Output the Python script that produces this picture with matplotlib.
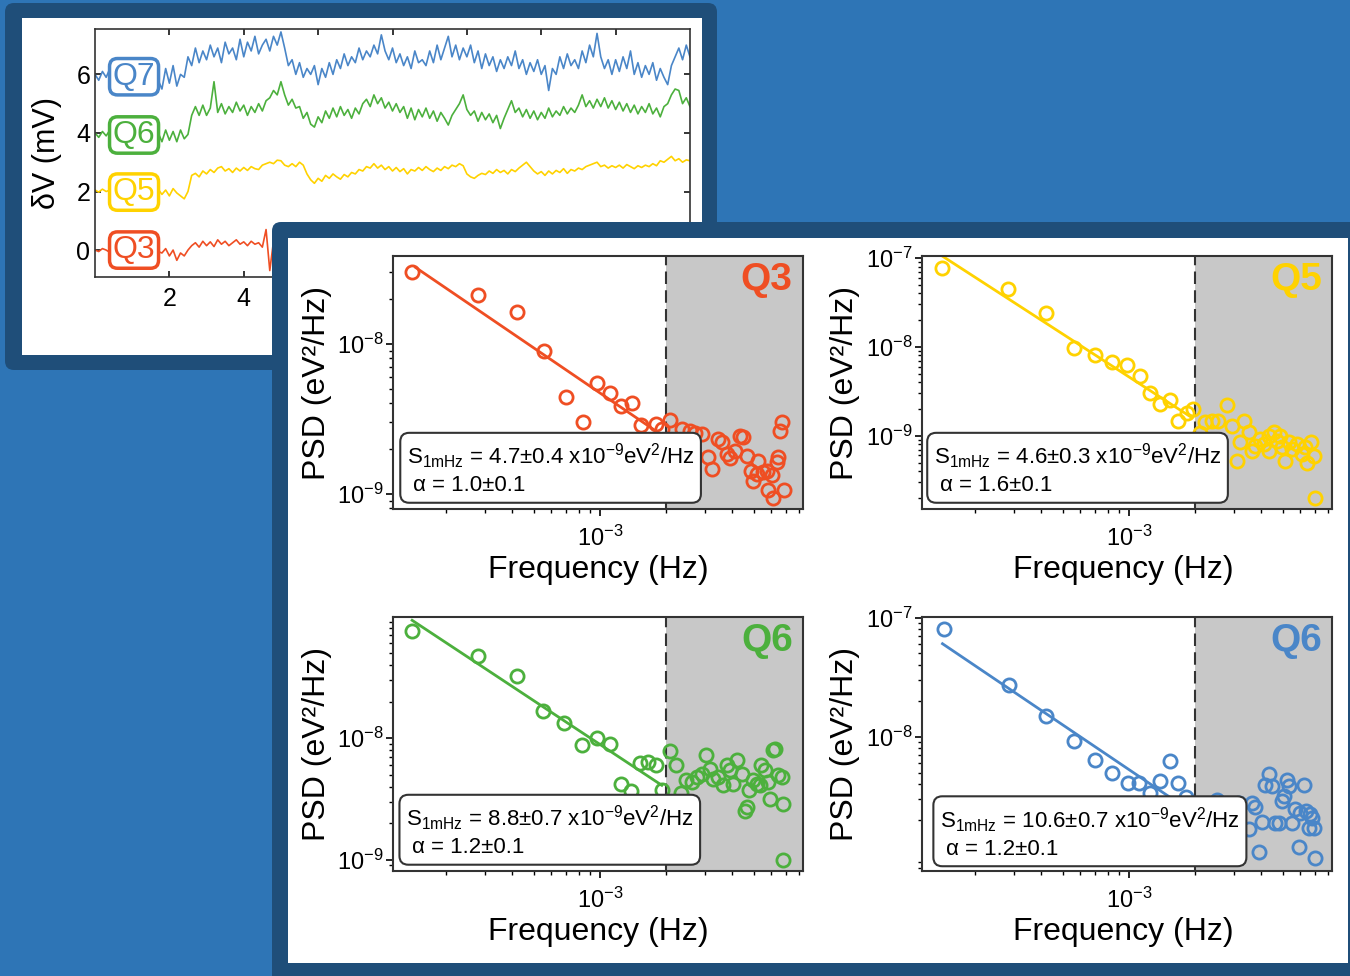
import matplotlib.pyplot as plt
import numpy as np
from matplotlib.patches import FancyBboxPatch, Rectangle
from matplotlib.ticker import FixedLocator, FuncFormatter, LogLocator, NullFormatter

# ---- time traces (dV in mV, sampled every 0.1 time unit) ----
trace_t = np.linspace(0, 16, 161)
trace_q7 = [
    6.0, 5.8, 6.1, 5.9, 6.2, 5.8, 6.0, 6.1, 5.7, 6.0,
    6.2, 5.9, 6.0, 5.8, 6.1, 5.9, 6.2, 5.8, 5.5, 6.2,
    5.7, 6.3, 5.6, 6.0, 5.9, 6.6, 6.3, 6.9, 6.4, 6.8,
    6.5, 7.0, 6.6, 6.9, 6.4, 7.1, 6.7, 6.9, 6.5, 7.2,
    6.6, 7.1, 6.8, 7.3, 6.7, 7.0, 7.2, 6.8, 7.3, 7.0,
    7.45, 6.9, 6.3, 6.5, 6.0, 6.4, 5.9, 6.2, 6.0, 6.3,
    5.65, 6.2, 5.9, 6.4, 6.0, 6.5, 6.2, 6.7, 6.3, 6.6,
    6.4, 6.9, 6.5, 6.8, 6.6, 7.0, 6.7, 7.35, 6.8, 6.5,
    6.9, 6.4, 6.7, 6.3, 6.6, 6.2, 6.8, 6.4, 6.5, 6.3,
    6.8, 6.4, 7.0, 6.5, 6.9, 7.3, 6.6, 7.0, 6.5, 6.9,
    6.6, 7.0, 6.4, 6.8, 6.2, 6.7, 6.3, 6.6, 6.1, 6.5,
    6.2, 6.6, 6.3, 6.8, 6.2, 6.5, 6.0, 6.4, 6.1, 6.5,
    6.0, 6.3, 5.45, 6.2, 6.0, 6.6, 6.2, 6.7, 6.3, 6.5,
    6.2, 6.8, 6.4, 7.0, 6.6, 7.4, 6.6, 6.2, 6.5, 6.0,
    6.5, 6.1, 6.6, 6.2, 6.8, 6.0, 6.4, 5.9, 6.3, 6.0,
    6.4, 5.8, 6.2, 5.9, 5.65, 6.3, 6.6, 6.9, 6.5, 7.0,
    6.6,
]
trace_q6 = [
    4.0, 3.85, 4.05, 3.9, 4.1, 3.95, 3.8, 4.05, 3.9, 4.0,
    3.9, 4.1, 3.85, 4.0, 3.95, 4.1, 3.85, 4.0, 3.7, 4.1,
    3.75, 4.05, 3.7, 4.1, 3.8, 3.95, 4.6, 4.9, 4.6, 4.95,
    4.6, 4.85, 5.75, 4.7, 5.0, 4.65, 4.9, 4.7, 5.05, 4.75,
    4.95, 4.6, 4.9, 4.7, 5.0, 4.75, 5.1, 5.2, 5.45, 5.3,
    5.75, 5.3, 4.95, 5.15, 4.85, 4.9, 4.5, 4.7, 4.3, 4.2,
    4.55, 4.35, 4.75, 4.5, 4.85, 4.55, 4.9, 4.6, 4.8, 4.5,
    4.85, 4.65, 5.0, 5.15, 4.9, 5.3, 5.0, 5.2, 4.85, 5.05,
    4.75, 5.0, 4.7, 4.9, 4.5, 4.85, 4.45, 4.8, 4.55, 4.85,
    4.5, 4.75, 4.4, 4.7, 4.5, 4.27, 4.6, 4.8, 5.0, 5.3,
    4.8, 4.6, 4.75, 4.4, 4.7, 4.45, 4.65, 4.35, 4.6, 4.15,
    4.5, 4.8, 5.1, 4.7, 4.85, 4.55, 4.8, 4.5, 4.75, 4.45,
    4.7, 4.5, 4.85, 4.55, 4.75, 4.6, 4.9, 4.65, 4.85, 4.7,
    4.95, 5.3, 4.9, 5.1, 4.85, 5.15, 4.9, 5.2, 4.85, 5.1,
    4.8, 5.05, 4.75, 5.0, 4.7, 4.95, 4.65, 4.9, 4.7, 5.0,
    4.65, 4.85, 4.55, 4.9, 5.0, 5.3, 5.5, 5.45, 5.0, 5.2,
    4.9,
]
trace_q5 = [
    2.05, 1.98, 2.08, 2.0, 2.05, 1.95, 2.02, 2.08, 1.98, 2.03,
    2.0, 2.06, 1.97, 2.03, 1.95, 2.05, 1.98, 2.08, 1.9, 2.05,
    1.85, 2.1, 1.95, 1.85, 1.75, 2.0, 2.55, 2.62, 2.5, 2.7,
    2.6, 2.75, 2.65, 2.8, 2.85, 2.7, 2.78, 2.65, 2.8, 2.7,
    2.82, 2.72, 2.85, 2.78, 2.75, 2.9, 2.95, 3.0, 2.95, 3.07,
    3.05, 2.9, 2.85, 2.95, 2.85, 3.0, 2.9, 2.6, 2.4, 2.28,
    2.45, 2.35, 2.55, 2.45, 2.6, 2.5, 2.42, 2.58, 2.5, 2.65,
    2.6, 2.75, 2.7, 2.85, 2.8, 2.95, 2.8, 2.9, 2.75, 2.85,
    2.7, 2.82, 2.68, 2.78, 2.6, 2.75, 2.7, 2.82, 2.72, 2.85,
    2.75, 2.68, 2.8, 2.72, 2.85, 2.78, 2.9, 2.85, 2.95, 2.88,
    2.6, 2.5, 2.45, 2.55, 2.62, 2.58, 2.7, 2.62, 2.75, 2.65,
    2.72, 2.6, 2.75, 2.68, 2.8, 2.9, 3.0, 2.85, 2.7, 2.6,
    2.68, 2.55, 2.7, 2.6, 2.72, 2.65, 2.78, 2.62, 2.75, 2.7,
    2.8, 2.75, 2.85, 2.9, 2.95, 3.0, 2.85, 2.9, 2.8, 2.88,
    2.82, 2.9, 2.8, 2.92, 2.85, 2.78, 2.88, 2.82, 2.9, 2.85,
    2.95, 2.88, 3.05, 3.0, 3.1, 3.2, 3.05, 3.12, 3.0, 3.08,
    3.05,
]
# Q3 is hidden behind the PSD panel after t ~ 5
trace_q3 = [
    0.0, -0.05, 0.05, 0.0, -0.08, 0.05, 0.0, -0.05, 0.03, 0.0,
    -0.05, 0.05, 0.0, -0.06, 0.04, -0.02, 0.05, -0.05, -0.1, 0.05,
    -0.2, 0.0, -0.35, -0.1, -0.2, 0.0, 0.15, 0.25, 0.1, 0.3,
    0.15, 0.28, 0.12, 0.35, 0.2, 0.3, 0.15, 0.25, 0.35, 0.2,
    0.28, 0.15, 0.3, 0.2, 0.25, 0.1, 0.7, -0.7, 0.3, 0.15,
    0.25,
]
trace_names = ["Q7", "Q6", "Q5", "Q3"]
trace_offsets = [5.92, 3.93, 1.98, 0.0]
trace_xticks = [2, 4, 6, 8, 10, 12, 14]
trace_xticklabels = ["2", "4", "", "", "", "", ""]  # the rest sit under the PSD panel

# ---- PSD points (Hz, eV^2/Hz) ----
q3_freq = [1.40e-4, 2.80e-4, 4.18e-4, 5.56e-4, 7.0e-4, 9.72e-4, 8.34e-4, 1.11e-3, 1.24e-3,
           1.40e-3, 1.53e-3, 1.80e-3, 1.91e-3, 2.08e-3, 2.35e-3, 2.57e-3, 2.70e-3, 2.90e-3,
           3.11e-3, 3.22e-3, 3.45e-3, 3.57e-3, 3.77e-3, 3.90e-3, 4.11e-3, 4.33e-3, 4.48e-3,
           4.65e-3, 4.84e-3, 4.98e-3, 5.16e-3, 5.25e-3, 5.53e-3, 5.72e-3, 5.82e-3, 6.03e-3,
           6.13e-3, 6.35e-3, 6.47e-3, 6.58e-3, 6.74e-3, 6.89e-3]
q3_psd = [3.02e-8, 2.11e-8, 1.62e-8, 8.98e-9, 4.39e-9, 5.47e-9, 2.99e-9, 4.67e-9, 3.82e-9,
          4.06e-9, 2.87e-9, 2.94e-9, 2.70e-9, 3.10e-9, 2.70e-9, 2.63e-9, 2.56e-9, 2.52e-9,
          1.75e-9, 1.46e-9, 2.31e-9, 2.20e-9, 1.84e-9, 1.73e-9, 1.94e-9, 2.44e-9, 2.38e-9,
          1.79e-9, 1.42e-9, 1.22e-9, 1.35e-9, 1.66e-9, 1.39e-9, 1.42e-9, 1.05e-9, 1.34e-9,
          9.35e-10, 1.62e-9, 1.75e-9, 2.63e-9, 2.99e-9, 1.05e-9]

q5_freq = [1.41e-4, 2.82e-4, 4.21e-4, 5.62e-4, 6.98e-4, 8.37e-4, 9.82e-4, 1.12e-3, 1.25e-3,
           1.39e-3, 1.54e-3, 1.67e-3, 1.83e-3, 1.95e-3, 2.11e-3, 2.22e-3, 2.38e-3, 2.55e-3,
           2.79e-3, 2.94e-3, 3.10e-3, 3.21e-3, 3.32e-3, 3.50e-3, 3.62e-3, 3.75e-3, 3.95e-3,
           4.09e-3, 4.31e-3, 4.54e-3, 4.71e-3, 4.96e-3, 5.13e-3, 5.32e-3, 5.51e-3, 5.81e-3,
           6.11e-3, 6.44e-3, 6.74e-3, 6.98e-3, 6.90e-3, 4.31e-3, 4.87e-3, 6.32e-3]
q5_psd = [7.64e-8, 4.42e-8, 2.37e-8, 9.70e-9, 8.02e-9, 6.74e-9, 6.18e-9, 4.65e-9, 3.01e-9,
          2.28e-9, 2.53e-9, 1.45e-9, 1.79e-9, 2.00e-9, 1.06e-9, 1.42e-9, 1.45e-9, 1.48e-9,
          2.24e-9, 1.30e-9, 5.21e-10, 8.41e-10, 1.45e-9, 1.09e-9, 6.77e-10, 7.71e-10, 9.16e-10,
          8.05e-10, 6.77e-10, 1.09e-9, 8.79e-10, 7.38e-10, 5.21e-10, 8.41e-10, 7.07e-10, 8.05e-10,
          6.21e-10, 5.00e-10, 8.41e-10, 2.01e-10, 5.94e-10, 1.0e-9, 1.0e-9, 7.38e-10]

q6_freq = [1.40e-4, 2.80e-4, 4.18e-4, 5.52e-4, 6.89e-4, 8.31e-4, 9.72e-4, 1.11e-3, 1.24e-3,
           1.39e-3, 1.52e-3, 1.66e-3, 1.80e-3, 1.91e-3, 2.08e-3, 2.21e-3, 2.33e-3, 2.46e-3,
           2.61e-3, 2.75e-3, 2.90e-3, 3.03e-3, 3.16e-3, 3.27e-3, 3.45e-3, 3.64e-3, 3.77e-3,
           3.90e-3, 4.04e-3, 4.21e-3, 4.41e-3, 4.56e-3, 4.65e-3, 4.78e-3, 4.98e-3, 5.16e-3,
           5.40e-3, 5.62e-3, 5.82e-3, 5.93e-3, 6.13e-3, 6.24e-3, 6.47e-3, 6.70e-3, 6.76e-3,
           6.82e-3, 5.34e-3]
q6_psd = [7.66e-8, 4.70e-8, 3.26e-8, 1.68e-8, 1.32e-8, 8.87e-9, 1.01e-8, 8.93e-9, 4.23e-9,
          3.67e-9, 6.25e-9, 6.38e-9, 6.07e-9, 3.72e-9, 7.82e-9, 6.07e-9, 3.53e-9, 4.50e-9,
          4.36e-9, 4.80e-9, 5.05e-9, 7.33e-9, 5.61e-9, 4.65e-9, 4.80e-9, 4.09e-9, 5.99e-9,
          5.44e-9, 4.23e-9, 6.58e-9, 5.11e-9, 2.54e-9, 2.71e-9, 3.72e-9, 4.50e-9, 4.23e-9,
          5.99e-9, 5.44e-9, 4.36e-9, 3.18e-9, 8.05e-9, 8.22e-9, 4.94e-9, 4.80e-9, 2.88e-9,
          9.93e-10, 4.09e-9]

q6b_freq = [1.44e-4, 2.84e-4, 4.21e-4, 5.62e-4, 6.98e-4, 8.37e-4, 9.86e-4, 1.11e-3, 1.25e-3,
            1.39e-3, 1.53e-3, 1.67e-3, 1.82e-3, 2.51e-3, 3.15e-3, 3.50e-3, 3.62e-3, 3.75e-3,
            3.88e-3, 4.02e-3, 4.17e-3, 4.31e-3, 4.47e-3, 4.63e-3, 4.79e-3, 4.96e-3, 5.09e-3,
            5.22e-3, 5.32e-3, 5.51e-3, 5.66e-3, 5.90e-3, 6.01e-3, 6.22e-3, 6.37e-3, 6.56e-3,
            6.79e-3, 6.90e-3, 6.98e-3, 6.67e-3]
q6b_psd = [8.05e-8, 2.71e-8, 1.50e-8, 9.26e-9, 6.43e-9, 4.98e-9, 4.11e-9, 4.11e-9, 3.39e-9,
           4.25e-9, 6.31e-9, 4.11e-9, 3.14e-9, 2.98e-9, 2.80e-9, 1.68e-9, 2.80e-9, 2.59e-9,
           1.09e-9, 1.93e-9, 3.91e-9, 4.89e-9, 3.85e-9, 1.91e-9, 1.91e-9, 2.89e-9, 3.18e-9,
           4.33e-9, 3.85e-9, 1.91e-9, 2.49e-9, 1.20e-9, 2.31e-9, 3.98e-9, 2.39e-9, 1.73e-9,
           2.10e-9, 1.73e-9, 9.55e-10, 2.24e-9]

# fitted 1/f^alpha lines, end points as drawn
q3_fit = ([1.45e-4, 2.0e-3], [3.24e-8, 2.35e-9])
q5_fit = ([1.36e-4, 1.93e-3], [1.12e-7, 1.60e-9])
q6_fit = ([1.40e-4, 1.91e-3], [9.30e-8, 4.10e-9])
q6b_fit = ([1.42e-4, 2.0e-3], [6.03e-8, 2.24e-9])

fit_text = [
    "S$_{1mHz}$ = 4.7±0.4 x10$^{-9}$eV$^{2}$/Hz\n α = 1.0±0.1",
    "S$_{1mHz}$ = 4.6±0.3 x10$^{-9}$eV$^{2}$/Hz\n α = 1.6±0.1",
    "S$_{1mHz}$ = 8.8±0.7 x10$^{-9}$eV$^{2}$/Hz\n α = 1.2±0.1",
    "S$_{1mHz}$ = 10.6±0.7 x10$^{-9}$eV$^{2}$/Hz\n α = 1.2±0.1",
]
panel_names = ["Q3", "Q5", "Q6", "Q6"]
cutoff_freq = 2e-3

RED, YELLOW, GREEN, BLUE = "#EF4E23", "#FFD200", "#4CB03D", "#4A86C8"
BG, FRAME, DARK = "#2E75B6", "#1F4E79", "#333333"

plt.rcParams["font.family"] = ["Liberation Sans", "DejaVu Sans"]
plt.rcParams["mathtext.default"] = "regular"

W, H = 1350, 976
fig = plt.figure(figsize=(W / 100, H / 100), dpi=100)
fig.patch.set_facecolor(BG)


def px_rect(x0, y0, x1, y1):
    return [x0 / W, 1 - y1 / H, (x1 - x0) / W, (y1 - y0) / H]


def add_panel(outer, inner, z):
    tr = fig.dpi_scale_trans
    x0, y0, x1, y1 = outer
    fig.add_artist(FancyBboxPatch((x0 / 100, (H - y1) / 100), (x1 - x0) / 100, (y1 - y0) / 100,
                                  boxstyle="round,pad=0,rounding_size=0.09", fc=FRAME, ec="none",
                                  transform=tr, zorder=z))
    x0, y0, x1, y1 = inner
    fig.add_artist(Rectangle((x0 / 100, (H - y1) / 100), (x1 - x0) / 100, (y1 - y0) / 100,
                             fc="white", ec="none", transform=tr, zorder=z + 0.01))


# ---- top-left: time traces ----
add_panel((5, 3, 717, 370), (22, 18, 702, 355), 0.1)
ax_t = fig.add_axes(px_rect(95, 29, 690, 277))
ax_t.set_zorder(0.3)
t_q3 = trace_t[:len(trace_q3)]
for vals, tt, color in [(trace_q7, trace_t, BLUE), (trace_q6, trace_t, GREEN),
                        (trace_q5, trace_t, YELLOW), (trace_q3, t_q3, RED)]:
    ax_t.plot(tt, vals, color=color, lw=1.2)
for name, off, color in zip(trace_names, trace_offsets, [BLUE, GREEN, YELLOW, RED]):
    ax_t.text(1.05, off, name, color=color, fontsize=23, ha="center", va="center", zorder=5,
              bbox=dict(boxstyle="round,pad=0.1,rounding_size=0.25", fc="white", ec=color, lw=2.5))
ax_t.set_xlim(0, 16)
ax_t.set_ylim(-0.92, 7.55)
ax_t.set_xticks(trace_xticks)
ax_t.set_xticklabels(trace_xticklabels)
ax_t.set_yticks([0, 2, 4, 6])
ax_t.tick_params(direction="in", top=True, right=True, labelsize=18, length=4, width=1.1)
ax_t.tick_params(axis="x", pad=7)
for s in ax_t.spines.values():
    s.set_linewidth(1.2)
    s.set_color(DARK)
ax_t.set_ylabel("δV (mV)", fontsize=22)
ax_t.yaxis.set_label_coords(-0.055, 0.5)

# ---- bottom-right: PSD panels ----
add_panel((272, 222, 1362, 990), (288, 238, 1348, 963), 0.4)

psd_axes_px = [(393, 256, 803, 509), (922, 256, 1332, 509),
               (393, 617, 803, 871), (922, 617, 1332, 871)]
psd_data = [(q3_freq, q3_psd, q3_fit, RED), (q5_freq, q5_psd, q5_fit, YELLOW),
            (q6_freq, q6_psd, q6_fit, GREEN), (q6b_freq, q6b_psd, q6b_fit, BLUE)]
psd_ylim = [(7.9e-10, 3.86e-8), (1.5e-10, 1.05e-7), (8.1e-10, 0.99e-7), (7.5e-10, 1.01e-7)]
psd_yticks = [[1e-9, 1e-8], [1e-9, 1e-8, 1e-7], [1e-9, 1e-8], [1e-8, 1e-7]]
box_pos = [(0.034, 0.051), (0.029, 0.051), (0.032, 0.051), (0.044, 0.045)]

dec_fmt = FuncFormatter(lambda v, pos: "$10^{%d}$" % int(round(np.log10(v))))

for i, (rect, (fr, ps, fit, color)) in enumerate(zip(psd_axes_px, psd_data)):
    ax = fig.add_axes(px_rect(*rect))
    ax.set_zorder(0.6)
    ax.set_xscale("log")
    ax.set_yscale("log")
    ax.set_xlim(1.146e-4, 8.37e-3)
    ax.set_ylim(*psd_ylim[i])
    ax.axvspan(cutoff_freq, 1, color="#C8C8C8", lw=0, zorder=0)
    ax.axvline(cutoff_freq, color=DARK, ls=(0, (6, 3)), lw=1.5, zorder=1)
    ax.plot(fit[0], fit[1], color=color, lw=2, zorder=2)
    ax.plot(fr, ps, "o", mfc="none", mec=color, ms=9.5, mew=2, zorder=3)

    ax.xaxis.set_major_locator(FixedLocator([1e-3]))
    ax.xaxis.set_major_formatter(dec_fmt)
    ax.xaxis.set_minor_locator(LogLocator(base=10, subs=np.arange(2, 10), numticks=20))
    ax.xaxis.set_minor_formatter(NullFormatter())
    ax.yaxis.set_major_locator(FixedLocator(psd_yticks[i]))
    ax.yaxis.set_major_formatter(dec_fmt)
    ax.yaxis.set_minor_locator(LogLocator(base=10, subs=np.arange(2, 10), numticks=20))
    ax.yaxis.set_minor_formatter(NullFormatter())
    ax.tick_params(which="major", direction="out", length=5, width=1.2, labelsize=17, pad=2)
    ax.tick_params(which="minor", direction="out", length=3, width=1.0)
    ax.tick_params(axis="x", which="major", pad=7)
    for s in ax.spines.values():
        s.set_linewidth(1.5)
        s.set_color(DARK)

    ax.set_xlabel("Frequency (Hz)", fontsize=23)
    ax.xaxis.set_label_coords(0.5 if i % 2 == 0 else 0.49, -0.18)
    ax.set_ylabel("PSD (eV²/Hz)", fontsize=23)
    ax.yaxis.set_label_coords(-0.15, 0.5)

    ax.text(0.975, 0.975, panel_names[i], transform=ax.transAxes, ha="right", va="top",
            fontsize=28, fontweight="bold", color=color, zorder=6)
    bx, by = box_pos[i]
    ax.text(bx, by, fit_text[i], transform=ax.transAxes, ha="left", va="bottom",
            fontsize=16, linespacing=1.25, zorder=10,
            bbox=dict(boxstyle="round,pad=0.3,rounding_size=0.4", fc="white", ec=DARK, lw=1.5))

fig.savefig("out.png", dpi=100, facecolor=fig.get_facecolor())
